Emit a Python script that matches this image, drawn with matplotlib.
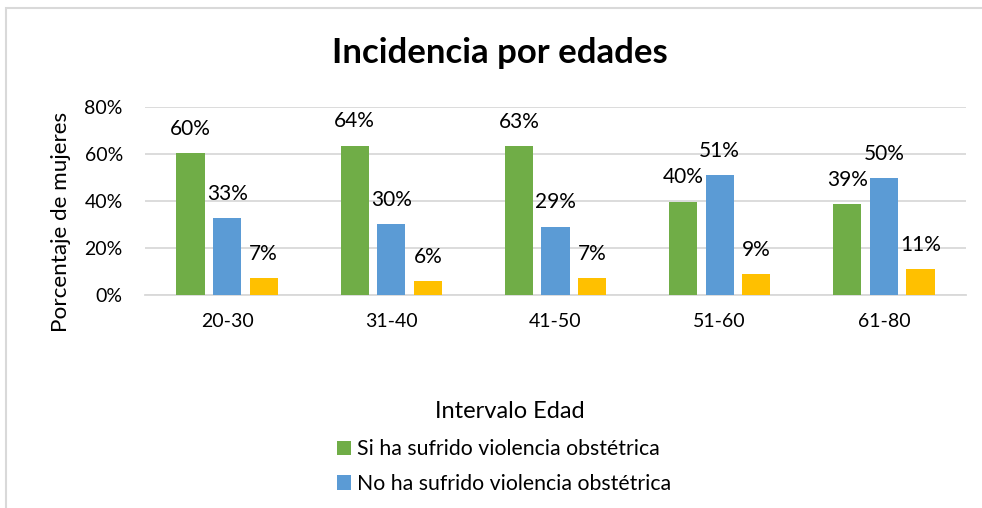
import matplotlib
matplotlib.use("Agg")
import matplotlib.pyplot as plt
from matplotlib.patches import Rectangle, Patch
import numpy as np

plt.rcParams['font.family'] = ['Lato', 'DejaVu Sans']

categories = ["20-30", "31-40", "41-50", "51-60", "61-80"]
si_violencia = [60.3, 63.6, 63.4, 39.7, 38.7]
no_violencia = [32.6, 30.2, 29.1, 51.1, 49.8]
tercera = [7.1, 6.0, 7.1, 8.9, 11.1]
yticks = [0, 20, 40, 60, 80]
series_labels = ["Si ha sufrido violencia obstétrica", "No ha sufrido violencia obstétrica"]
colors = ["#70AD47", "#5B9BD5", "#FFC000"]

W, H = 982, 508
fig = plt.figure(figsize=(W/100, H/100), dpi=100)

def fx(px):
    return px / W

def fy(py):
    return 1 - py / H

# chart border (cropped)
fig.patches.append(Rectangle((fx(6), fy(H + 20)), fx(W + 20), fy(8) - fy(H + 20),
                             transform=fig.transFigure, fill=False,
                             edgecolor="#d9d9d9", linewidth=1.5))

ax = fig.add_axes([fx(145), fy(295), fx(966) - fx(145), fy(107) - fy(295)])
x = np.arange(len(categories))
bw = 0.172
off = 0.223
for i, (vals, c) in enumerate(zip([si_violencia, no_violencia, tercera], colors)):
    bars = ax.bar(x + (i - 1) * off, vals, width=bw, color=c, zorder=3)
    for b, v in zip(bars, vals):
        ax.annotate(f"{round(v):d}%", (b.get_x() + b.get_width()/2, v),
                    xytext=(0, 17.5), textcoords="offset points",
                    ha="center", va="center", fontsize=15, color="#000000")

ax.set_xlim(-0.5, len(categories) - 0.5)
ax.set_ylim(0, 80)
ax.set_yticks(yticks)
ax.set_yticklabels([f"{t}%" for t in yticks])
ax.set_xticks(x)
ax.set_xticklabels(categories)
ax.yaxis.grid(True, color="#d9d9d9", linewidth=1.3, zorder=0)
ax.set_axisbelow(True)
for s in ["top", "right", "left"]:
    ax.spines[s].set_visible(False)
ax.spines["bottom"].set_color("#d9d9d9")
ax.spines["bottom"].set_linewidth(1.3)
ax.tick_params(axis="both", length=0, labelsize=14, colors="#000000")
ax.tick_params(axis="x", pad=13)
ax.tick_params(axis="y", pad=16)

fig.text(fx(500), fy(53), "Incidencia por edades", ha="center", va="center",
         fontsize=25, fontweight="bold", color="#000000")
fig.text(fx(61), fy(222), "Porcentaje de mujeres", ha="center", va="center",
         rotation=90, fontsize=16.2, color="#000000")
fig.text(fx(510), fy(411), "Intervalo Edad", ha="center", va="center",
         fontsize=17, color="#000000")

handles = [Patch(facecolor=colors[0]), Patch(facecolor=colors[1])]
leg = fig.legend(handles, series_labels, loc="upper left",
                 bbox_to_anchor=(fx(335), fy(437)), frameon=False, fontsize=15.3,
                 handlelength=0.65, handleheight=0.65, handletextpad=0.3,
                 labelspacing=0.7, borderaxespad=0, borderpad=0.1)

fig.savefig("out.png", dpi=100)
